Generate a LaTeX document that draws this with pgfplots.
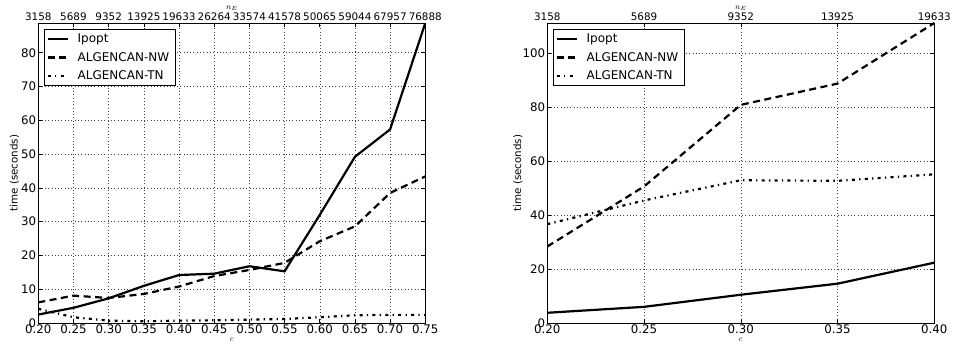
\documentclass[border=0pt]{standalone}
\usepackage{fontspec}
\setmainfont{DejaVu Sans}
\usepackage{pgfplots}
\pgfplotsset{compat=1.18}
\pgfplotsset{
  base/.style={
    scale only axis, width=387pt, height=300pt,
    ymin=0,
    axis line style={line width=0.8pt, black},
    tick style={line width=0.6pt, black},
    major tick length=4pt,
    tick align=inside, tick pos=both,
    grid=major,
    grid style={black!75, line width=0.5pt, dash pattern=on 1pt off 2.3pt},
    /pgf/number format/assume math mode=true,
    every tick label/.append style={font=\fontsize{11.8}{13}\selectfont},
    xticklabel style={inner sep=2pt},
    yticklabel style={inner sep=2pt},
    ylabel style={font=\fontsize{10.3}{12}\selectfont},
    xlabel style={font=\fontsize{8}{10}\selectfont, inner sep=1.5pt},
    legend style={at={(0.015,0.98)}, anchor=north west, draw=black, line width=0.8pt,
      fill=white, font=\fontsize{12}{14}\selectfont, inner xsep=2pt, inner ysep=1.5pt,
      row sep=2.5pt, column sep=5pt,
      nodes={inner xsep=4pt, inner ysep=3pt, text height=9pt, text depth=1pt}},
    legend cell align=left,
    legend image code/.code={\draw[##1] (0pt,0pt) -- (20pt,0pt);},
  },
  top/.style={
    scale only axis, width=387pt, height=300pt,
    ymin=0, ymax=1, hide y axis, axis x line*=top,
    axis line style={draw=none},
    xtick style={draw=none},
    every tick label/.append style={font=\fontsize{10.4}{12}\selectfont},
    xticklabel style={inner sep=2pt},
    xlabel style={font=\fontsize{8}{10}\selectfont, inner sep=0pt},
    xlabel={$n_E$},
  },
  ip/.style={black, line width=2.2pt},
  nw/.style={black, line width=2.2pt, dash pattern=on 7pt off 4.5pt},
  tn/.style={black, line width=2.2pt, dash pattern=on 3pt off 4.3pt on 1.3pt off 4.3pt},
}
\begin{document}
\begin{tikzpicture}
\path[use as bounding box] (0,0) rectangle (954pt,349pt);
% ---------------- left panel
\begin{axis}[base, at={(38.3pt,26pt)}, anchor=south west,
  xmin=0.2, xmax=0.75, ymax=88.8,
  xtick={0.2,0.25,0.3,0.35,0.4,0.45,0.5,0.55,0.6,0.65,0.7,0.75},
  xticklabels={0.20,0.25,0.30,0.35,0.40,0.45,0.50,0.55,0.60,0.65,0.70,0.75},
  ytick={0,10,20,30,40,50,60,70,80},
  xlabel={$c$}, ylabel={time (seconds)},
  ylabel style={at={(axis description cs:-0.062,0.5)}, anchor=center}]
\addplot[ip] coordinates {(0.20,2.5)(0.25,4.5)(0.30,7.3)(0.35,11.0)(0.40,14.2)(0.45,14.6)(0.50,16.8)(0.55,15.3)(0.60,32.0)(0.65,49.2)(0.70,57.3)(0.75,88.8)};
\addplot[nw] coordinates {(0.20,6.1)(0.25,8.1)(0.30,7.4)(0.35,8.6)(0.40,10.8)(0.45,13.9)(0.50,15.7)(0.55,17.8)(0.60,24.2)(0.65,28.6)(0.70,38.5)(0.75,43.4)};
\addplot[tn] coordinates {(0.20,4.2)(0.25,1.7)(0.30,0.7)(0.35,0.5)(0.40,0.7)(0.45,0.8)(0.50,1.0)(0.55,1.2)(0.60,1.7)(0.65,2.3)(0.70,2.4)(0.75,2.4)};
\legend{Ipopt,ALGENCAN-NW,ALGENCAN-TN}
\end{axis}
\begin{axis}[top, at={(38.3pt,26pt)}, anchor=south west,
  xmin=0.2, xmax=0.75,
  xtick={0.2,0.25,0.3,0.35,0.4,0.45,0.5,0.55,0.6,0.65,0.7,0.75},
  xticklabels={3158,5689,9352,13925,19633,26264,33574,41578,50065,59044,67957,76888}]
\addplot[draw=none] coordinates {(0.2,0)};
\end{axis}
% ---------------- right panel
\begin{axis}[base, at={(547.3pt,26pt)}, anchor=south west,
  xmin=0.2, xmax=0.4, ymax=111.4,
  xtick={0.2,0.25,0.3,0.35,0.4},
  xticklabels={0.20,0.25,0.30,0.35,0.40},
  ytick={0,20,40,60,80,100},
  xlabel={$c$}, ylabel={time (seconds)},
  ylabel style={at={(axis description cs:-0.0757,0.5)}, anchor=center}]
\addplot[ip] coordinates {(0.20,3.8)(0.25,6.0)(0.30,10.5)(0.35,14.6)(0.40,22.4)};
\addplot[nw] coordinates {(0.20,28.4)(0.25,50.7)(0.30,81.0)(0.35,88.9)(0.40,111.4)};
\addplot[tn] coordinates {(0.20,36.7)(0.25,45.5)(0.30,53.0)(0.35,52.8)(0.40,55.2)};
\legend{Ipopt,ALGENCAN-NW,ALGENCAN-TN}
\end{axis}
\begin{axis}[top, at={(547.3pt,26pt)}, anchor=south west,
  xmin=0.2, xmax=0.4,
  xtick={0.2,0.25,0.3,0.35,0.4},
  xticklabels={3158,5689,9352,13925,19633}]
\addplot[draw=none] coordinates {(0.2,0)};
\end{axis}
\end{tikzpicture}
\end{document}
